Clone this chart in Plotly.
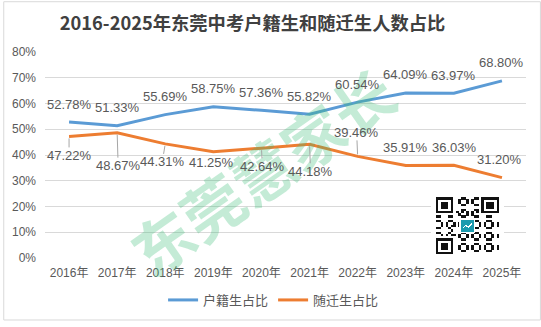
import plotly.graph_objects as go
from urllib.parse import quote

# ---- data ----
years = ["2016年", "2017年", "2018年", "2019年", "2020年",
         "2021年", "2022年", "2023年", "2024年", "2025年"]
local_share = [52.78, 51.33, 55.69, 58.75, 57.36, 55.82, 60.54, 64.09, 63.97, 68.80]
migrant_share = [47.22, 48.67, 44.31, 41.25, 42.64, 44.18, 39.46, 35.91, 36.03, 31.20]
series_names = ["户籍生占比", "随迁生占比"]
y_ticks = [0, 10, 20, 30, 40, 50, 60, 70, 80]

# ---- styling ----
W, H = 541, 327
L, R, T, B = 42, 15, 52, 64
BLUE = "#5B9BD5"
ORANGE = "#ED7D31"
TEXT = "#595959"
FONT = "Liberation Sans, Arial, Noto Sans CJK SC, sans-serif"

# label offsets in pixels (dx, dy) and whether a leader line is drawn
local_offsets = [(0, -18)] * 10
migrant_offsets = [(0, 19, True), (1, 33, True), (-3, 18, True), (-2, 11, False),
                   (1, 18, True), (1, 27, True), (-1, -24, True), (0, -18, False),
                   (1, -18, False), (-2, -18, False)]

fig = go.Figure()
fig.add_trace(go.Scatter(x=years, y=local_share, mode="lines", name=series_names[0],
                         line=dict(color=BLUE, width=3)))
fig.add_trace(go.Scatter(x=years, y=migrant_share, mode="lines", name=series_names[1],
                         line=dict(color=ORANGE, width=3)))

pw, ph = W - L - R, H - T - B
annotations = []

# diagonal watermark
annotations.append(dict(
    text="<b>东莞慧家长</b>", x=(260 - L) / pw, y=(H - B - 173) / ph,
    xref="paper", yref="paper", showarrow=False, textangle=-35,
    font=dict(size=61, family="Noto Sans CJK SC", color="rgba(60,190,120,0.30)"),
))

def value_label(x, v, dx, dy, leader):
    return dict(
        x=x, y=v, xref="x", yref="y", text=f"{v:.2f}%",
        showarrow=True, arrowhead=0, arrowwidth=1, standoff=2,
        arrowcolor="#a6a6a6" if leader else "rgba(0,0,0,0)",
        ax=dx, ay=dy, font=dict(size=13, family=FONT, color=TEXT),
        borderpad=0,
    )

for x, v, (dx, dy) in zip(years, local_share, local_offsets):
    annotations.append(value_label(x, v, dx, dy, False))
for x, v, (dx, dy, leader) in zip(years, migrant_share, migrant_offsets):
    annotations.append(value_label(x, v, dx, dy, leader))

# QR-style badge in the lower right
def qr_svg(n=25):
    cells = [[0] * n for _ in range(n)]
    def finder(r0, c0):
        for r in range(7):
            for c in range(7):
                edge = r in (0, 6) or c in (0, 6)
                core = 2 <= r <= 4 and 2 <= c <= 4
                cells[r0 + r][c0 + c] = 1 if (edge or core) else 0
    reserved = set()
    for r0, c0 in [(0, 0), (0, n - 7), (n - 7, 0)]:
        finder(r0, c0)
        for r in range(-1, 8):
            for c in range(-1, 8):
                reserved.add((r0 + r, c0 + c))
    for i in range(n):
        for j in range(n):
            if (i, j) in reserved:
                continue
            if i == 6 or j == 6:
                cells[i][j] = 1 if (i + j) % 2 == 0 else 0
            else:
                cells[i][j] = 1 if ((i * 7 + j * 11 + (i * j) % 5) % 5) < 2 else 0
    rects = []
    for i in range(n):
        for j in range(n):
            if cells[i][j]:
                rects.append(f'<rect x="{j + 2}" y="{i + 2}" width="1.02" height="1.02" fill="#111"/>')
    m = n + 4
    c0 = m / 2 - 2.6
    logo = (f'<rect x="{c0 - 0.6}" y="{c0 - 0.6}" width="6.4" height="6.4" fill="#fff"/>'
            f'<rect x="{c0}" y="{c0}" width="5.2" height="5.2" fill="#1b9aae"/>'
            f'<path d="M{c0 + 1} {c0 + 3.4} l1 -1 l1 0.8 l1.4 -1.6" stroke="#fff" stroke-width="0.5" fill="none"/>')
    svg = (f'<svg xmlns="http://www.w3.org/2000/svg" viewBox="0 0 {m} {m}" '
           f'preserveAspectRatio="none" shape-rendering="crispEdges">'
           f'<rect width="{m}" height="{m}" fill="#fff"/>' + "".join(rects) + logo + '</svg>')
    return "data:image/svg+xml;charset=utf-8," + quote(svg)

qr_x0, qr_y0, qr_w, qr_h = 430, 196, 74, 68
images = [dict(source=qr_svg(), xref="paper", yref="paper",
               x=(qr_x0 - L) / pw, y=(H - B - qr_y0) / ph,
               sizex=qr_w / pw, sizey=qr_h / ph,
               xanchor="left", yanchor="top", sizing="stretch", layer="above")]

# outer frame
shapes = [dict(type="rect", xref="paper", yref="paper",
               x0=(0.5 - L) / pw, x1=(W - 0.5 - L) / pw,
               y0=(H - B - (H - 0.5)) / ph, y1=(H - B - 0.5) / ph,
               line=dict(color="#d9d9d9", width=1), fillcolor="rgba(0,0,0,0)")]

fig.update_layout(
    width=W, height=H,
    margin=dict(l=L, r=R, t=T, b=B),
    paper_bgcolor="white", plot_bgcolor="white",
    title=dict(text="<b>2016-2025年东莞中考户籍生和随迁生人数占比</b>",
               x=252.5 / W, xanchor="center", y=1 - 24 / H, yanchor="middle",
               font=dict(size=18.3, family="Noto Sans CJK SC", color="#404040")),
    xaxis=dict(type="category", range=[-0.5, 9.5], showgrid=False, showline=False,
               zeroline=False, ticks="", ticklabelstandoff=6,
               tickfont=dict(size=12, family=FONT, color=TEXT)),
    yaxis=dict(range=[0, 80], tickvals=y_ticks, ticktext=[f"{t}%" for t in y_ticks],
               showgrid=True, gridcolor="#d9d9d9", gridwidth=1, zeroline=False,
               showline=False, ticks="", ticklabelstandoff=8,
               tickfont=dict(size=12, family=FONT, color=TEXT)),
    legend=dict(orientation="h", x=(272 - L) / pw, xanchor="center",
                y=(H - B - 306) / ph, yanchor="middle",
                font=dict(size=13, family="Noto Sans CJK SC, sans-serif", color=TEXT),
                itemwidth=30, tracegroupgap=0),
    annotations=annotations,
    images=images,
    shapes=shapes,
    showlegend=True,
)

fig.write_html("out.html")
